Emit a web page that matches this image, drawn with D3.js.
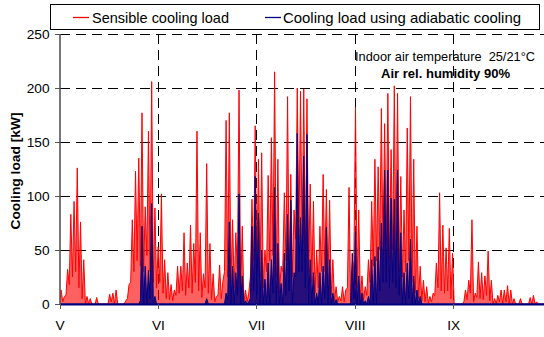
<!DOCTYPE html>
<html><head><meta charset="utf-8">
<script src="https://cdn.jsdelivr.net/npm/d3@7/dist/d3.min.js"></script>
<style>
body{margin:0;background:#fff}
svg{display:block}
text{font-family:"Liberation Sans",Arial,sans-serif;fill:#000}
</style>
</head><body>
<svg id="c" width="544" height="337"></svg>
<script>
// ---- data (day index from 1 May; one daytime peak and one night value per day) ----
const monthLabels = ["V","VI","VII","VIII","IX"];
const monthStart = [0, 30.42, 60.83, 91.25, 121.67];
const yTickValues = [0,50,100,150,200,250];

const sensibleDay = [
 13,7,32,83,95,126,76,41,7,5,
 0,6,0,0,0,9,10,13,0,0,
 3,18,78,123,135,177,90,160,206,89,
 53,102,41,29,18,13,35,35,66,38,
 73,56,160,66,28,130,56,28,7,36,
 21,170,177,78,66,198,72,13,10,97,
 165,134,140,50,119,154,215,134,35,103,
 192,120,87,200,197,199,190,111,95,50,
 72,120,106,96,41,16,7,16,13,108,
 16,182,87,26,16,41,95,134,127,181,
 167,195,143,202,195,118,87,163,192,134,
 72,35,22,16,7,10,38,103,73,52,
 70,47,0,0,0,13,22,78,10,39,
 29,26,49,22,5,8,13,13,17,13,
 5,0,5,0,0,6,8,2,0,0,
 0,0,0];
const sensibleNight = [
 0,2,8,18,25,30,15,5,0,0,
 0,0,0,0,0,0,2,0,0,0,
 0,5,20,30,40,35,30,45,30,20,
 15,20,10,5,4,3,8,10,12,8,
 15,10,20,12,6,15,10,4,2,8,
 5,30,25,20,15,30,10,2,2,25,
 40,30,25,15,30,40,45,25,10,30,
 40,20,25,60,60,55,40,30,20,10,
 15,30,30,20,8,3,2,3,2,15,
 3,40,15,5,4,8,20,35,40,50,
 45,55,40,50,45,30,25,30,40,20,
 10,5,3,2,1,2,8,15,12,10,
 12,5,0,0,0,2,4,10,2,6,
 5,4,8,3,0,0,2,0,2,0,
 0,0,0,0,0,0,0,0,0,0,
 0,0,0];
const adiabaticDay = [
 0,0,0,0,0,0,0,0,0,0,
 0,0,0,0,0,0,0,0,0,0,
 0,0,0,0,0,72,35,31,93,7,
 0,0,0,0,0,0,0,0,0,0,
 0,0,0,0,0,5,0,0,0,0,
 0,10,76,35,29,102,26,3,2,72,
 118,84,50,23,38,41,108,56,19,47,
 83,96,29,158,80,137,157,41,29,10,
 29,35,71,41,10,4,0,0,0,0,
 47,67,26,10,3,7,41,44,53,75,
 124,124,98,97,124,66,29,38,60,26,
 13,7,0,0,0,0,0,0,0,0,
 0,0,0,0,0,0,0,0,0,0,
 0,0,0,0,0,0,0,0,0,0,
 0,0,0,0,0,0,0,0,0,0,
 0,0,0];
const adiabaticNight = [
 0,0,0,0,0,0,0,0,0,0,
 0,0,0,0,0,0,0,0,0,0,
 0,0,0,0,0,3,0,0,5,0,
 0,0,0,0,0,0,0,0,0,0,
 0,0,0,0,0,0,0,0,0,0,
 0,0,4,0,0,8,0,0,0,5,
 12,8,0,0,0,0,10,0,0,0,
 8,12,0,25,30,30,15,0,0,0,
 0,0,5,0,0,0,0,0,0,0,
 0,5,0,0,0,0,0,0,0,12,
 20,20,15,20,15,8,0,0,5,0,
 0,0,0,0,0,0,0,0,0,0,
 0,0,0,0,0,0,0,0,0,0,
 0,0,0,0,0,0,0,0,0,0,
 0,0,0,0,0,0,0,0,0,0,
 0,0,0];

(function(){
const svg = d3.select("#c");
const pL = 60, pT = 34, pB = 304, pR = 544;
const x = d3.scaleLinear().domain([0,153]).range([59.5, 59.5 + 153*3.235]);
const y = d3.scaleLinear().domain([0,250]).range([pB, pT]);
const F = "13.7px";

function series(day, night){
  const pts = [];
  day.forEach((v,i)=>{ pts.push([i, night[i]]); pts.push([i+0.5, v]); });
  return pts;
}

// grid
const grid = svg.append("g");
grid.selectAll("line.h").data(yTickValues.filter(v=>v>0)).join("line")
  .attr("x1", pL).attr("x2", pR)
  .attr("y1", d=>Math.round(y(d))+0.5).attr("y2", d=>Math.round(y(d))+0.5)
  .attr("stroke","#000").attr("stroke-width",1).attr("stroke-dasharray","10,6");
grid.selectAll("line.v").data(monthStart.slice(1)).join("line")
  .attr("x1", d=>Math.round(x(d))+0.5).attr("x2", d=>Math.round(x(d))+0.5)
  .attr("y1", pT).attr("y2", pB)
  .attr("stroke","#000").attr("stroke-width",1).attr("stroke-dasharray","10,6");

// clip
svg.append("clipPath").attr("id","pc").append("rect")
  .attr("x", pL).attr("y", pT-2).attr("width", pR-pL).attr("height", pB-pT+3);

const line = d3.line().x(d=>x(d[0])).y(d=>y(d[1]));
const area = d3.area().x(d=>x(d[0])).y0(y(0)).y1(d=>y(d[1]));
const plot = svg.append("g").attr("clip-path","url(#pc)");
const sens = series(sensibleDay, sensibleNight);
const adia = series(adiabaticDay, adiabaticNight);
plot.append("path").datum(sens).attr("d", area).attr("fill","#ff0000").attr("fill-opacity",0.62);
plot.append("path").datum(sens)
  .attr("d", line).attr("fill","none").attr("stroke","#ff0000").attr("stroke-width",1);
plot.append("path").datum(adia).attr("d", area).attr("fill","#000080").attr("fill-opacity",0.85);
plot.append("path").datum(adia)
  .attr("d", line).attr("fill","none").attr("stroke","#000080").attr("stroke-width",1);

// x axis baseline
svg.append("line").attr("x1", pL).attr("x2", pR).attr("y1", pB+0.5).attr("y2", pB+0.5)
  .attr("stroke","#000080").attr("stroke-width",2);
svg.selectAll("line.xt").data(monthStart).join("line")
  .attr("x1", d=>Math.round(x(d))+0.5).attr("x2", d=>Math.round(x(d))+0.5)
  .attr("y1", pB).attr("y2", pB+5).attr("stroke","#555").attr("stroke-width",1);
svg.selectAll("text.xl").data(monthLabels).join("text")
  .attr("x", (d,i)=>x(monthStart[i])+0.5).attr("y", 330)
  .attr("text-anchor","middle").style("font-size", F).text(d=>d);

// y axis
svg.append("line").attr("x1", 60).attr("x2", 60).attr("y1", pT).attr("y2", pB+1)
  .attr("stroke","#555").attr("stroke-width",1.6);
svg.selectAll("line.yt").data(yTickValues).join("line")
  .attr("x1", 55).attr("x2", 60)
  .attr("y1", d=>Math.round(y(d))+0.5).attr("y2", d=>Math.round(y(d))+0.5)
  .attr("stroke","#555").attr("stroke-width",1);
svg.selectAll("text.yl").data(yTickValues).join("text")
  .attr("x", 49.5).attr("y", d=>y(d)).attr("dy","0.36em")
  .attr("text-anchor","end").style("font-size", F).text(d=>d);

svg.append("text").attr("transform","translate(19.5,171) rotate(-90)")
  .attr("text-anchor","middle").style("font-size", F).style("font-weight","bold")
  .attr("textLength",117).attr("lengthAdjust","spacingAndGlyphs")
  .text("Cooling load [kW]");

// legend
const lg = svg.append("g");
lg.append("rect").attr("x",50.5).attr("y",4.5).attr("width",489).attr("height",25)
  .attr("fill","#fff").attr("stroke","#000").attr("stroke-width",1);
const legendItems = [
  {label:"Sensible cooling load", color:"#ff0000", x:73, tx:92, w:137},
  {label:"Cooling load using adiabatic cooling", color:"#000080", x:265, tx:283, w:238}
];
legendItems.forEach(it=>{
  lg.append("line").attr("x1",it.x).attr("x2",it.x+16).attr("y1",17.5).attr("y2",17.5)
    .attr("stroke",it.color).attr("stroke-width",1.3);
  lg.append("text").attr("x",it.tx).attr("y",22.8).style("font-size","14.8px")
    .attr("textLength",it.w).attr("lengthAdjust","spacingAndGlyphs").text(it.label);
});

// annotation
svg.append("text").attr("x",355).attr("y",61).style("font-size","13px")
  .attr("xml:space","preserve").attr("textLength",180).attr("lengthAdjust","spacingAndGlyphs")
  .text("Indoor air temperature  25/21°C");
svg.append("text").attr("x",381).attr("y",77.5).style("font-size","13px")
  .style("font-weight","bold").attr("textLength",129).attr("lengthAdjust","spacingAndGlyphs")
  .text("Air rel. humidity 90%");
})();
</script>
</body></html>
